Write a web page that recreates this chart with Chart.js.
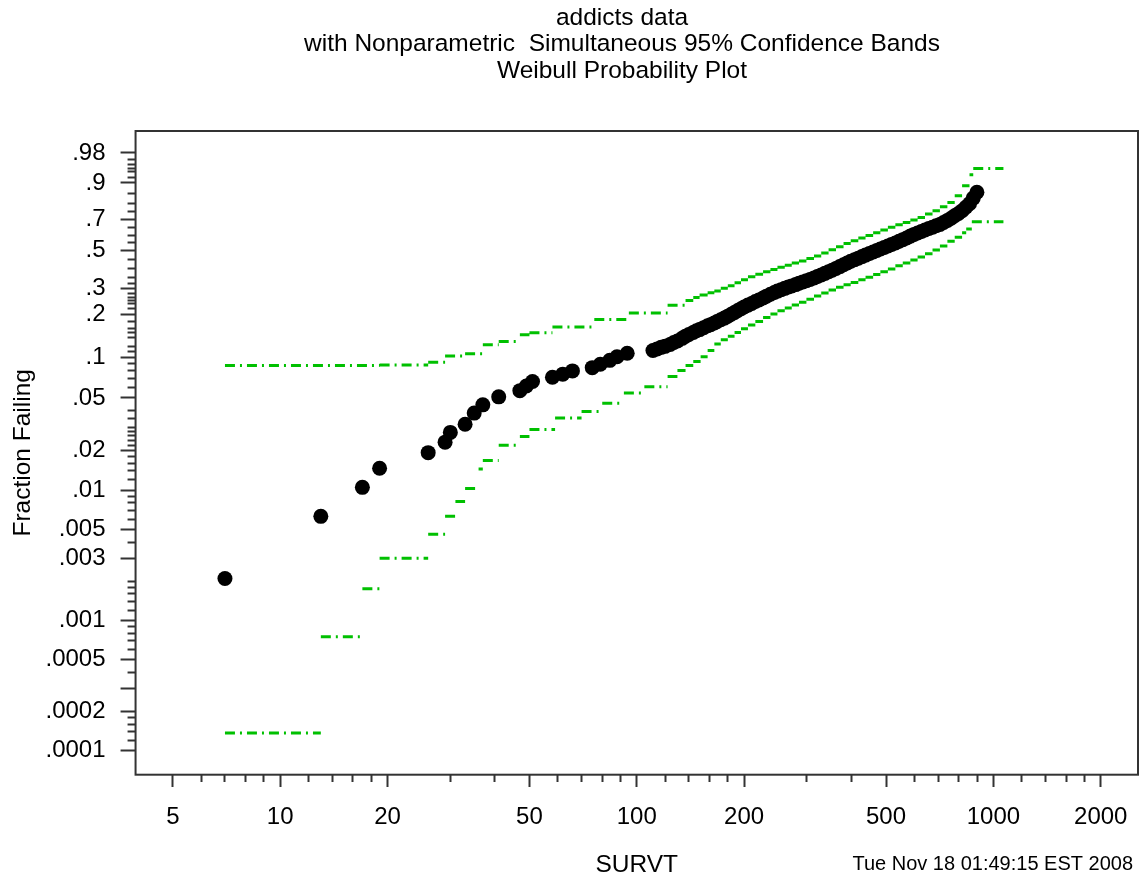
<!DOCTYPE html>
<html>
<head>
<meta charset="utf-8">
<script src="https://cdn.jsdelivr.net/npm/chart.js@4.4.1/dist/chart.umd.min.js"></script>
<style>
  html, body { margin: 0; padding: 0; background: #fff; }
  canvas { display: block; background: #fff; }
</style>
</head>
<body>
<canvas id="plot" width="1140" height="877"></canvas>
<script>
// addicts data — Weibull probability plot with nonparametric simultaneous bands
const FONT = "'Liberation Sans', Arial, sans-serif";
const GREEN = '#00c000', INK = '#333';

const titleLines = ['addicts data', 'with Nonparametric  Simultaneous 95% Confidence Bands', 'Weibull Probability Plot'];
const stamp = 'Tue Nov 18 01:49:15 EST 2008';

// nonparametric estimate (black dots): survival time, fraction failing
const survT = [7, 13, 17, 19, 26, 29, 30, 33, 35, 37, 41, 47, 49, 51, 58, 62, 66, 75, 79, 84, 88, 94,
  111, 114, 117, 120, 124, 127, 130, 134, 137, 140, 144, 147, 150, 154, 158, 161, 165, 168, 172, 176,
  180, 184, 188, 192, 196, 200, 205, 210, 215, 220, 226, 231, 237, 243, 248, 254, 260, 266, 272, 279,
  285, 292, 299, 306, 314, 321, 329, 337, 345, 353, 362, 371, 380, 389, 398, 408, 418, 428, 438, 449,
  460, 471, 482, 494, 506, 518, 531, 544, 557, 571, 585, 599, 613, 628, 643, 659, 675, 691, 708, 725,
  743, 761, 779, 798, 817, 837, 857, 878, 899];
const fracFail = [.0021, .0063, .0105, .0147, .0193, .0232, .0275, .0317, .0385, .0444, .0510, .0567, .0615, .0663,
  .0714, .0752, .0795, .0840, .0890, .0950, .1010, .1070,
  .112, .115, .118, .120, .124, .128, .131, .137, .142, .146, .151, .155, .158, .163, .168, .171, .176, .180, .185, .190,
  .196, .202, .208, .214, .220, .226, .233, .239, .246, .252, .260, .267, .275, .282, .288, .294, .300, .306, .311, .317,
  .323, .329, .335, .341, .349, .356, .364, .372, .380, .388, .398, .408, .418, .428, .438, .447, .456, .465, .474, .484,
  .493, .502, .511, .520, .530, .539, .549, .560, .570, .581, .593, .604, .613, .623, .633, .642, .651, .660, .669, .681,
  .695, .709, .724, .738, .755, .776, .797, .828, .858];

// simultaneous 95% bands (step functions, value held until the next time)
const hiT = [7, 19, 26, 29, 33, 37, 41, 47, 50, 58, 76, 95, 122, 137, 144, 150, 158, 165, 172, 180,
  188, 196, 205, 215, 226, 237, 248, 260, 272, 285, 299, 314, 329, 345, 362, 380, 398, 418, 438, 460,
  482, 506, 531, 557, 585, 613, 643, 675, 708, 743, 779, 817, 857, 878, 1067];
const hiP = [.087, .088, .092, .102, .106, .123, .130, .145, .150, .165, .186, .206, .232, .250, .262, .272, .281, .289, .300, .312,
  .325, .340, .355, .367, .380, .392, .404, .416, .428, .440, .454, .469, .487, .506, .525, .545, .563, .580, .597, .615,
  .633, .650, .666, .682, .698, .714, .735, .756, .779, .804, .840, .888, .930, .949, .949];
const loT = [7, 13, 17, 19, 26, 29, 31, 33, 36, 37, 41, 47, 50, 59, 70, 80, 92, 105, 122, 130,
  137, 144, 151, 158, 165, 172, 180, 188, 196, 205, 215, 226, 237, 248, 260, 272, 285, 299, 314, 329,
  345, 362, 380, 398, 418, 438, 460, 482, 506, 531, 557, 585, 613, 643, 675, 708, 743, 779, 817, 839, 870, 1067];
const loP = [.000137, .00075, .00175, .0030, .0046, .0063, .0082, .0103, .0145, .0168, .0220, .0256, .0290, .0354, .0395, .0457, .0545, .0607, .0723, .0800,
  .0870, .0930, .101, .112, .125, .134, .142, .151, .160, .170, .180, .192, .203, .213, .223, .233, .243, .255, .268, .280,
  .293, .305, .316, .327, .340, .352, .366, .380, .395, .412, .428, .445, .462, .482, .505, .530, .560, .585, .615, .639, .686, .686];

// axis ticks
const xMajor = [5, 10, 20, 50, 100, 200, 500, 1000, 2000];
const xMinor = [6, 7, 8, 9, 12, 14, 16, 18, 30, 40, 60, 70, 80, 90, 120, 140, 160, 180, 300, 400,
  600, 700, 800, 900, 1200, 1400, 1600, 1800];
const yMajorP = [.98, .9, .7, .5, .3, .2, .1, .05, .02, .01, .005, .003, .001, .0005, .0003, .0002, .0001];
const yMajorLab = ['.98', '.9', '.7', '.5', '.3', '.2', '.1', '.05', '.02', '.01', '.005', '.003', '.001', '.0005', '', '.0002', '.0001'];
const yMinorP = [.97, .96, .95, .94, .92, .85, .8, .75, .65, .6, .55, .45, .4, .35, .32, .28, .26, .25, .24, .22,
  .18, .16, .15, .14, .12, .11, .09, .08, .07, .06, .04, .035, .03, .028, .026, .024, .022,
  .018, .016, .014, .012, .009, .008, .007, .006, .004, .002, .0018, .0016, .0014, .0012,
  .0009, .0008, .0007, .0006, .0004, .00018, .00016, .00014, .00012];

const wb = p => Math.log(-Math.log(1 - p));          // Weibull probability scale
const pts = (ts, ps) => ts.map((t, i) => ({ x: t, y: wb(ps[i]) }));
// band as separate horizontal pieces (no risers), like the original plot
const steps = (ts, ps) => ts.slice(0, -1).flatMap((t, i) =>
  [{ x: t, y: wb(ps[i]) }, { x: ts[i + 1], y: wb(ps[i]) }, { x: ts[i + 1], y: null }]);
const byVal = (a, b) => a.value - b.value;
const xTicks = () => xMajor.map(v => ({ value: v, lab: String(v) }))
  .concat(xMinor.map(v => ({ value: v, lab: '', minor: true }))).sort(byVal);
const yTicks = () => yMajorP.map((p, i) => ({ value: wb(p), lab: yMajorLab[i] }))
  .concat(yMinorP.map(p => ({ value: wb(p), lab: '', minor: true }))).sort(byVal);
const isMinor = c => !!(c.tick && c.tick.minor);

const frame = {
  id: 'frame',
  afterDraw(ch) {
    const { ctx, chartArea: a } = ch;
    ctx.save(); ctx.strokeStyle = INK; ctx.lineWidth = 2;
    ctx.strokeRect(a.left, a.top, a.right - a.left, a.bottom - a.top);
    ctx.restore();
  }
};
const texts = {
  id: 'texts',
  afterDraw(ch) {
    const ctx = ch.ctx;
    ctx.save(); ctx.fillStyle = '#000'; ctx.textBaseline = 'middle';
    ctx.font = '24.5px ' + FONT; ctx.textAlign = 'center';
    titleLines.forEach((s, i) => ctx.fillText(s, 622, 18 + i * 26.5));
    ctx.font = '20px ' + FONT; ctx.textAlign = 'right';
    ctx.fillText(stamp, 1133, 864);
    ctx.restore();
  }
};

const bandStyle = { showLine: true, borderColor: GREEN, borderWidth: 3, borderDash: [10, 5, 2, 5],
                    pointRadius: 0, fill: false, spanGaps: false };

// long tick lines with zero label padding; dashes trim them to the drawn length
new Chart(document.getElementById('plot'), {
  type: 'scatter',
  data: {
    datasets: [
      { label: 'estimate', data: pts(survT, fracFail), backgroundColor: '#000', borderColor: '#000',
        pointRadius: 7.5, pointBorderWidth: 0, pointHoverRadius: 7.5 },
      { label: 'upper', data: steps(hiT, hiP), ...bandStyle },
      { label: 'lower', data: steps(loT, loP), ...bandStyle }
    ]
  },
  options: {
    responsive: false, animation: false,
    layout: { autoPadding: false, padding: { left: 11, top: 131, right: 2, bottom: 0 } },
    plugins: { legend: { display: false }, tooltip: { enabled: false } },
    scales: {
      x: {
        type: 'logarithmic', position: 'bottom', bounds: 'data', min: 3.93, max: 2544,
        afterBuildTicks: ax => { ax.ticks = xTicks(); },
        ticks: { autoSkip: false, maxRotation: 0, padding: 0, color: '#000', font: { family: FONT, size: 24 },
                 callback: (v, i, t) => t[i].lab },
        grid: { drawOnChartArea: false, tickLength: 28, tickWidth: 2, tickColor: INK,
                tickBorderDash: c => isMinor(c) ? [7, 100] : [12, 100] },
        border: { display: false },
        title: { display: true, text: 'SURVT', color: '#000', font: { family: FONT, size: 24.5, lineHeight: 1 },
                 padding: { top: 21, bottom: 0 } }
      },
      y: {
        type: 'linear', position: 'left', bounds: 'data', min: -9.635, max: 1.753,
        afterBuildTicks: ax => { ax.ticks = yTicks(); },
        ticks: { autoSkip: false, padding: 0, color: '#000', font: { family: FONT, size: 24 },
                 callback: (v, i, t) => t[i].lab },
        grid: { drawOnChartArea: false, tickLength: 30, tickWidth: 2, tickColor: INK,
                tickBorderDash: c => isMinor(c) ? [8, 22] : [15, 15],
                tickBorderDashOffset: c => isMinor(c) ? 8 : 15 },
        border: { display: false },
        title: { display: true, text: 'Fraction Failing', color: '#000', font: { family: FONT, size: 24.5, lineHeight: 1 },
                 padding: { top: 0, bottom: 10 } }
      }
    }
  },
  plugins: [frame, texts]
});
</script>
</body>
</html>
